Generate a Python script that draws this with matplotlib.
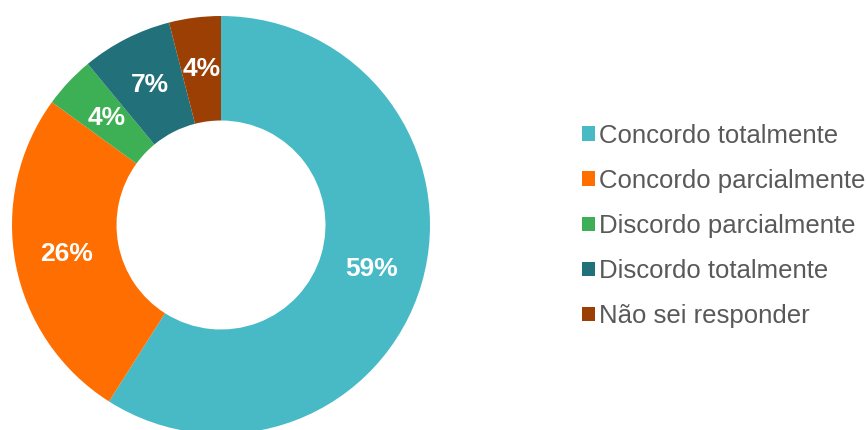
import matplotlib.pyplot as plt
from matplotlib.patches import Patch

categories = ["Concordo totalmente", "Concordo parcialmente", "Discordo parcialmente",
              "Discordo totalmente", "Não sei responder"]
values = [59, 26, 4, 7, 4]
colors = ["#47BAC6", "#FF6E00", "#3DAF55", "#22707A", "#9B3F04"]

plt.rcParams["font.family"] = ["Liberation Sans", "DejaVu Sans"]

W, H = 866, 430
fig = plt.figure(figsize=(W / 100, H / 100), dpi=100)

# donut: centre (221, 225) px from top-left, outer radius 209 px
cx, cy, r = 221, 225, 209
ax = fig.add_axes([(cx - r) / W, (H - cy - r) / H, 2 * r / W, 2 * r / H])
wedges, texts, autotexts = ax.pie(
    values, colors=colors, startangle=90, counterclock=False,
    radius=1.0, autopct=lambda p: f"{round(p)}%", pctdistance=0.75,
    wedgeprops=dict(width=0.5, edgecolor="none"),
    textprops=dict(color="white", fontsize=19, fontweight="bold"))
ax.set_xlim(-1, 1)
ax.set_ylim(-1, 1)
ax.set_aspect("equal")
ax.axis("off")

handles = [Patch(facecolor=c, edgecolor="none") for c in colors]
fig.legend(handles, categories, loc="center left",
           bbox_to_anchor=(582 / W, 1 - 226 / H), frameon=False,
           borderpad=0, borderaxespad=0,
           fontsize=18.5, labelcolor="#595959", handlelength=0.5,
           handleheight=0.5, handletextpad=0.15, labelspacing=0.82)

fig.savefig("out.png", dpi=100)
